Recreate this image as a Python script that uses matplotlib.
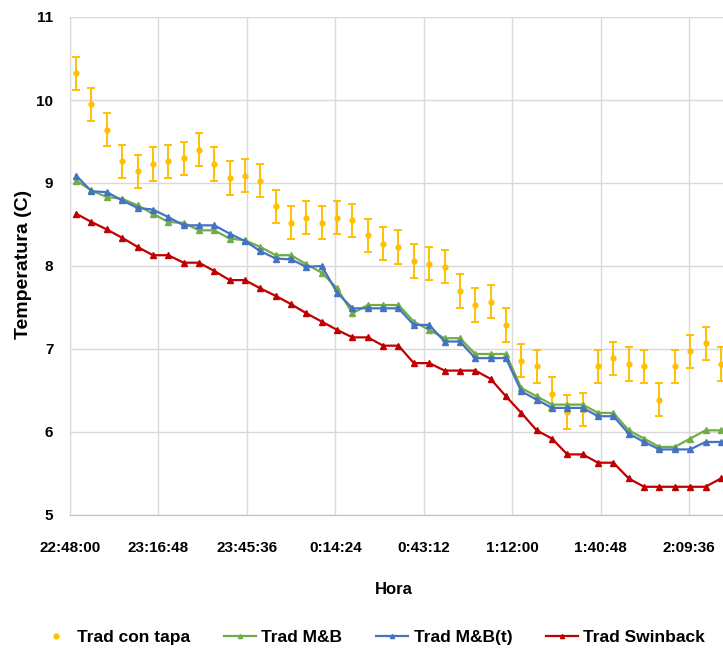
import matplotlib
matplotlib.use("Agg")
import matplotlib.pyplot as plt
from matplotlib.lines import Line2D
from matplotlib.ticker import FuncFormatter, MultipleLocator

plt.rcParams['font.family'] = ['Liberation Sans', 'DejaVu Sans']

# Sampling times (every 5 minutes, starting 22:50)
HORAS = ["22:50", "22:55", "23:00", "23:05", "23:10", "23:15", "23:20", "23:25",
         "23:30", "23:35", "23:40", "23:45", "23:50", "23:55", "0:00", "0:05",
         "0:10", "0:15", "0:20", "0:25", "0:30", "0:35", "0:40", "0:45",
         "0:50", "0:55", "1:00", "1:05", "1:10", "1:15", "1:20", "1:25",
         "1:30", "1:35", "1:40", "1:45", "1:50", "1:55", "2:00", "2:05",
         "2:10", "2:15", "2:20"]

CON_TAPA = [10.32, 9.95, 9.64, 9.26, 9.14, 9.23, 9.26, 9.30, 9.40, 9.23,
            9.06, 9.09, 9.03, 8.72, 8.52, 8.58, 8.52, 8.58, 8.55, 8.37,
            8.27, 8.23, 8.06, 8.03, 7.99, 7.70, 7.53, 7.57, 7.29, 6.86,
            6.79, 6.46, 6.24, 6.27, 6.79, 6.89, 6.82, 6.79, 6.39, 6.79,
            6.97, 7.07, 6.82]
CON_TAPA_ERR = 0.2

MB = [9.03, 8.91, 8.83, 8.81, 8.73, 8.63, 8.53, 8.52, 8.43, 8.43,
      8.33, 8.31, 8.23, 8.13, 8.13, 8.02, 7.92, 7.73, 7.43, 7.53,
      7.53, 7.53, 7.33, 7.23, 7.13, 7.13, 6.94, 6.94, 6.94, 6.53,
      6.43, 6.33, 6.33, 6.33, 6.23, 6.23, 6.02, 5.92, 5.82, 5.82,
      5.92, 6.02, 6.02]

MB_T = [9.09, 8.90, 8.89, 8.79, 8.70, 8.68, 8.59, 8.49, 8.49, 8.49,
        8.39, 8.30, 8.18, 8.09, 8.08, 7.99, 8.00, 7.68, 7.49, 7.49,
        7.49, 7.49, 7.29, 7.29, 7.09, 7.09, 6.89, 6.89, 6.89, 6.49,
        6.39, 6.29, 6.29, 6.29, 6.19, 6.19, 5.98, 5.88, 5.79, 5.79,
        5.79, 5.88, 5.88]

SWINBACK = [8.63, 8.53, 8.44, 8.34, 8.23, 8.13, 8.13, 8.04, 8.04, 7.94,
            7.83, 7.83, 7.73, 7.64, 7.54, 7.43, 7.33, 7.23, 7.14, 7.14,
            7.04, 7.04, 6.83, 6.83, 6.74, 6.74, 6.74, 6.64, 6.43, 6.23,
            6.02, 5.92, 5.73, 5.73, 5.63, 5.63, 5.44, 5.34, 5.34, 5.34,
            5.34, 5.34, 5.44]

T0 = 22 * 60 + 48  # axis origin, 22:48:00 in minutes


def to_minutes(hhmm):
    h, m = (int(p) for p in hhmm.split(":"))
    t = h * 60 + m
    if t < T0:
        t += 24 * 60
    return t - T0


def fmt_hora(x, pos):
    total = int(round((T0 + x) * 60)) % (24 * 3600)
    h, rest = divmod(total, 3600)
    m, s = divmod(rest, 60)
    return f"{h}:{m:02d}:{s:02d}"


x = [to_minutes(h) for h in HORAS]

fig = plt.figure(figsize=(7.23, 6.54), dpi=100)
ax = fig.add_axes([70 / 723, 139 / 654, 1 - 70 / 723, 498 / 654])

ax.errorbar(x, CON_TAPA, yerr=CON_TAPA_ERR, fmt='o', color='#FFC000',
            ms=3.5, elinewidth=1.4, capsize=2.7, capthick=1.4, zorder=3)
ax.plot(x, MB, color='#70AD47', lw=1.6, marker='^', ms=4.5, zorder=4)
ax.plot(x, MB_T, color='#4472C4', lw=1.6, marker='^', ms=4.5, zorder=5)
ax.plot(x, SWINBACK, color='#C00000', lw=1.6, marker='^', ms=4.5, zorder=4)

ax.set_ylim(5, 11)
ax.set_xlim(0, 212.7)
ax.xaxis.set_major_locator(MultipleLocator(28.8))
ax.xaxis.set_major_formatter(FuncFormatter(fmt_hora))
ax.yaxis.set_major_locator(MultipleLocator(1))

ax.grid(True, color='#D9D9D9', lw=1.0)
ax.set_axisbelow(True)
for side in ('top', 'right'):
    ax.spines[side].set_visible(False)
ax.spines['left'].set_color('#D9D9D9')
ax.spines['bottom'].set_color('#BFBFBF')
ax.tick_params(axis='both', length=0, labelsize=11)
ax.tick_params(axis='x', pad=19)
ax.tick_params(axis='y', pad=12)
for lbl in ax.get_xticklabels() + ax.get_yticklabels():
    lbl.set_fontweight('bold')

fig.text(23.5 / 723, 1 - 264 / 654, 'Temperatura (C)', rotation=90,
         ha='center', va='center', fontsize=14, fontweight='bold')
fig.text(394 / 723, 1 - 589 / 654, 'Hora', ha='center', va='center',
         fontsize=12, fontweight='bold')

handles = [
    Line2D([], [], ls='none', marker='o', ms=3.5, color='#FFC000'),
    Line2D([], [], color='#70AD47', lw=1.6, marker='^', ms=3),
    Line2D([], [], color='#4472C4', lw=1.6, marker='^', ms=3),
    Line2D([], [], color='#C00000', lw=1.6, marker='^', ms=3),
]
labels = ['Trad con tapa', 'Trad M&B', 'Trad M&B(t)', 'Trad Swinback']
fig.legend(handles, labels, loc='center', bbox_to_anchor=(372.5 / 723, 17 / 654),
           ncol=4, frameon=False, prop={'size': 12.5, 'weight': 'bold'},
           handlelength=1.85, handletextpad=0.3, columnspacing=1.95)

fig.savefig('out.png', dpi=100)
